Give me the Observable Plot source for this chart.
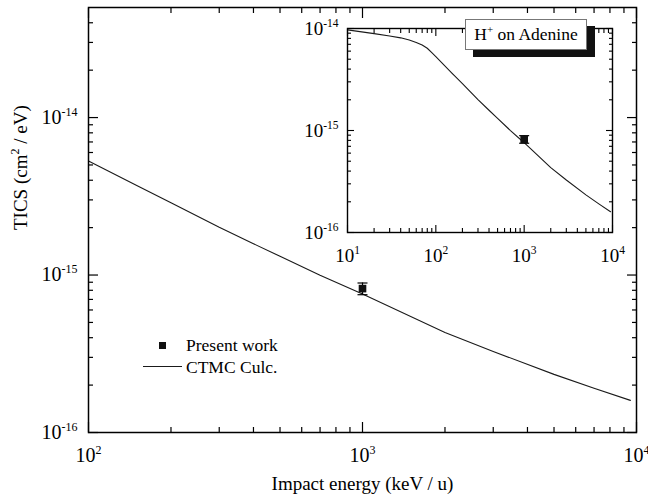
<!DOCTYPE html>
<html>
<head>
<meta charset="utf-8">
<script src="https://cdn.jsdelivr.net/npm/d3@7"></script>
<script src="https://cdn.jsdelivr.net/npm/@observablehq/plot@0.6"></script>
<style>
  html, body { margin: 0; padding: 0; background: #fff; }
  #wrap { position: relative; width: 648px; height: 502px; font-family: "Liberation Serif", "Times New Roman", serif; color: #000; }
  #wrap > svg { position: absolute; overflow: visible; }
  .lbl { position: absolute; font-size: 17.5px; line-height: 20px; white-space: nowrap; z-index: 3; }
  #tbox { position: absolute; left: 465px; top: 19px; width: 122px; height: 31px; box-sizing: border-box;
          border: 1px solid #777; background: #fff; box-shadow: 8px 7px 0 #111; z-index: 4;
          font-size: 17.5px; line-height: 29px; text-align: center; white-space: nowrap; }
  #tbox sup { font-size: 11px; vertical-align: 0; position: relative; top: -7px; }
</style>
</head>
<body>
<div id="wrap"></div>
<script>
// ---- data ----
const calcEnergy = [10, 20, 30, 40, 50, 60, 70, 80, 90, 100, 150, 200, 300, 400, 500, 700, 1000, 2000, 3000, 5000, 7000, 9500];
const calcTICS   = [9.7e-15, 8.9e-15, 8.45e-15, 8.1e-15, 7.7e-15, 7.3e-15, 6.9e-15, 6.4e-15, 5.8e-15, 5.3e-15,
                    3.7e-15, 2.88e-15, 2.01e-15, 1.58e-15, 1.315e-15, 9.98e-16, 7.59e-16, 4.32e-16, 3.27e-16, 2.34e-16, 1.91e-16, 1.60e-16];
const expEnergy = [1000];
const expTICS   = [8.2e-16];
const expErr    = [0.7e-16];

const mainXTicks  = [100, 1000, 10000];
const mainYTicks  = [1e-16, 1e-15, 1e-14];
const insetXTicks = [10, 100, 1000, 10000];
const insetYTicks = [1e-16, 1e-15, 1e-14];

const xTitle = "Impact energy (keV / u)";
const yTitle = "TICS (cm^{2} / eV)";
const legendLabels = ["Present work", "CTMC Culc."];
const insetTitle = "on Adenine";

// ---- derived tables ----
const calc = calcEnergy.map((e, i) => ({energy: e, tics: calcTICS[i]}));
const pts = expEnergy.map((e, i) => ({energy: e, tics: expTICS[i], low: expTICS[i] - expErr[i], high: expTICS[i] + expErr[i]}));

function minors(lo, hi, maxTop) {
  const out = [];
  for (let d = lo; d < hi; d *= 10) for (let k = 2; k <= 9; k++) { const v = k * d; if (v <= maxTop * 1.0001) out.push(v); }
  return out;
}
const fmt = d => `10^{${Math.round(Math.log10(d))}}`;
const capSymbol = {draw(ctx, size) { const w = Math.sqrt(size / Math.PI); ctx.moveTo(-w, 0); ctx.lineTo(w, 0); }};

function tickAxes(xMaj, xMin, yMaj, yMin, big, small, sw) {
  const o = {label: null, fill: "none", strokeWidth: sw};
  return [
    Plot.axisX(xMaj, {...o, anchor: "bottom", tickSize: big, dy: -big}),
    Plot.axisX(xMin, {...o, anchor: "bottom", tickSize: small, dy: -small}),
    Plot.axisX(xMaj, {...o, anchor: "top", tickSize: big, dy: big}),
    Plot.axisX(xMin, {...o, anchor: "top", tickSize: small, dy: small}),
    Plot.axisY(yMaj, {...o, anchor: "left", tickSize: big, dx: big}),
    Plot.axisY(yMin, {...o, anchor: "left", tickSize: small, dx: small}),
    Plot.axisY(yMaj, {...o, anchor: "right", tickSize: big, dx: -big}),
    Plot.axisY(yMin, {...o, anchor: "right", tickSize: small, dx: -small})
  ];
}

function dataMarks(clip) {
  return [
    Plot.line(calc, {x: "energy", y: "tics", stroke: "#1a1a1a", strokeWidth: 1.1, clip}),
    Plot.ruleX(pts, {x: "energy", y1: "low", y2: "high", stroke: "#000", strokeWidth: 1.2}),
    Plot.dot(pts, {x: "energy", y: "low", symbol: capSymbol, r: 5, stroke: "#000", strokeWidth: 1.2}),
    Plot.dot(pts, {x: "energy", y: "high", symbol: capSymbol, r: 5, stroke: "#000", strokeWidth: 1.2}),
    Plot.dot(pts, {x: "energy", y: "tics", symbol: "square", r: 4.3, fill: "#111", stroke: null})
  ];
}

const font = '"Liberation Serif", "Times New Roman", serif';

const main = Plot.plot({
  width: 648, height: 502,
  marginTop: 7, marginRight: 12, marginBottom: 70, marginLeft: 88,
  style: {fontFamily: font, fontSize: "20px", background: "transparent", color: "#000", overflow: "visible"},
  x: {type: "log", domain: [100, 10000]},
  y: {type: "log", domain: [1e-16, 5e-14]},
  marks: [
    ...tickAxes(mainXTicks, minors(100, 10000, 10000), mainYTicks, minors(1e-16, 1e-14, 5e-14).concat([2e-14, 3e-14, 4e-14]), 10, 5, 1.2),
    Plot.axisX(mainXTicks, {anchor: "bottom", label: null, tickSize: 0, tickPadding: 15, tickFormat: fmt, fontSize: 20}),
    Plot.axisY(mainYTicks, {anchor: "left", label: null, tickSize: 0, tickPadding: 11, tickFormat: fmt, fontSize: 20}),
    Plot.text([xTitle], {frameAnchor: "bottom", dy: 57, text: d => d, fontSize: 19}),
    Plot.text([yTitle], {frameAnchor: "left", rotate: -90, dx: -68, dy: 10, text: d => d, fontSize: 19}),
    ...dataMarks(true),
    Plot.frame({stroke: "#000", strokeWidth: 1.5})
  ]
});
main.id = "main";
main.style.left = "0px"; main.style.top = "0px";

const inset = Plot.plot({
  width: 340, height: 270,
  marginTop: 28, marginRight: 18, marginBottom: 38, marginLeft: 57,
  style: {fontFamily: font, fontSize: "19px", background: "transparent", color: "#000", overflow: "visible"},
  x: {type: "log", domain: [10, 10000]},
  y: {type: "log", domain: [1e-16, 1e-14]},
  marks: [
    ...tickAxes(insetXTicks, minors(10, 10000, 10000), insetYTicks, minors(1e-16, 1e-14, 1e-14), 7, 4, 1.1),
    Plot.axisX(insetXTicks, {anchor: "bottom", label: null, tickSize: 0, tickPadding: 16, tickFormat: fmt, fontSize: 19}),
    Plot.axisY(insetYTicks, {anchor: "left", label: null, tickSize: 0, tickPadding: 9, tickFormat: fmt, fontSize: 19}),
    ...dataMarks(false),
    Plot.frame({stroke: "#000", strokeWidth: 1.4})
  ]
});
inset.id = "inset";
inset.style.left = "290px"; inset.style.top = "0px";

// superscripts: "a^{b}c" -> tspans
const NS = "http://www.w3.org/2000/svg";
function supify(svg, supSize, rise) {
  svg.querySelectorAll("text").forEach(t => {
    const s = t.textContent;
    if (!s.includes("^{")) return;
    const parts = s.split(/\^\{([^}]*)\}/);
    t.textContent = "";
    let raised = false;
    parts.forEach((p, i) => {
      const isSup = i % 2 === 1;
      if (p === "" && !isSup) { return; }
      const ts = document.createElementNS(NS, "tspan");
      ts.textContent = p;
      if (isSup) { ts.setAttribute("dy", -rise); ts.setAttribute("font-size", supSize); raised = true; }
      else if (raised) { ts.setAttribute("dy", rise); raised = false; }
      t.appendChild(ts);
    });
  });
}
supify(main, 12, 8);
supify(inset, 11.5, 8);

const wrap = document.getElementById("wrap");
wrap.style.fontFamily = font;
wrap.appendChild(main);
wrap.appendChild(inset);

// legend
function addDiv(html, cls, css) { const d = document.createElement("div"); if (cls) d.className = cls; d.innerHTML = html; Object.assign(d.style, css); wrap.appendChild(d); return d; }
addDiv("", null, {position: "absolute", left: "158.5px", top: "342px", width: "7px", height: "7px", background: "#111", zIndex: 3});
addDiv(legendLabels[0], "lbl", {left: "186px", top: "335px"});
addDiv("", null, {position: "absolute", left: "143px", top: "366px", width: "39px", height: "1.2px", background: "#1a1a1a", zIndex: 3});
addDiv(legendLabels[1], "lbl", {left: "186px", top: "356.5px"});
const tb = addDiv("", null, {}); tb.id = "tbox"; tb.innerHTML = "H<sup>+</sup> " + insetTitle;
</script>
</body>
</html>
